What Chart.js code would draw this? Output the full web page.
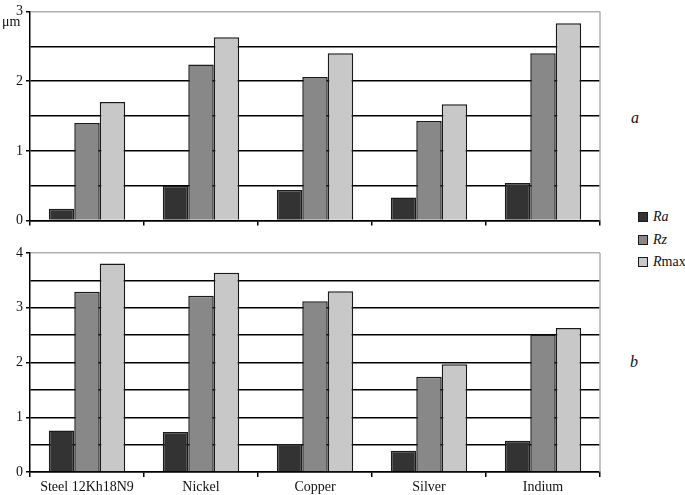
<!DOCTYPE html>
<html>
<head>
<meta charset="utf-8">
<script src="https://cdn.jsdelivr.net/npm/chart.js@4/dist/chart.umd.min.js"></script>
<style>
  html, body { margin:0; padding:0; background:#fff; }
  body { width:685px; height:495px; position:relative; overflow:hidden; font-family:"Liberation Serif", "DejaVu Serif", serif; color:#111; }
  .cw { position:absolute; left:0; }
  .lbl { position:absolute; font-size:14px; line-height:14px; white-space:nowrap; }
  .it { font-style:italic; }
  .sw { position:absolute; width:8px; height:8px; border:1.5px solid #1a1a1a; }
</style>
</head>
<body>
<div class="cw" style="top:0px;width:602px;height:232px;"><canvas id="cA" width="602" height="232"></canvas></div>
<div class="cw" style="top:240px;width:602px;height:255px;"><canvas id="cB" width="602" height="255"></canvas></div>

<div class="lbl" style="left:2px;top:15px;font-size:14px;">μm</div>
<div class="lbl it" style="left:631px;top:111px;font-size:16px;">a</div>
<div class="lbl it" style="left:630px;top:355px;font-size:16px;">b</div>

<div class="sw" style="left:638px;top:212px;background:#333333;"></div>
<div class="lbl" style="left:653px;top:210px;font-size:14px;"><span class="it">Ra</span></div>
<div class="sw" style="left:638px;top:235px;background:#888888;"></div>
<div class="lbl" style="left:653px;top:233px;font-size:14px;"><span class="it">Rz</span></div>
<div class="sw" style="left:638px;top:257px;background:#c8c8c8;"></div>
<div class="lbl" style="left:653px;top:255px;font-size:14px;"><span class="it">R</span>max</div>

<script>
const categories = ['Steel 12Kh18N9', 'Nickel', 'Copper', 'Silver', 'Indium'];
const seriesNames = ['Ra', 'Rz', 'Rmax'];
const seriesColors = ['#333333', '#888888', '#c8c8c8'];

// Panel a
const raA   = [0.17, 0.50, 0.44, 0.33, 0.54];
const rzA   = [1.40, 2.24, 2.06, 1.43, 2.40];
const rmaxA = [1.70, 2.63, 2.40, 1.67, 2.83];
const yMaxA = 3;

// Panel b
const raB   = [0.76, 0.73, 0.51, 0.39, 0.57];
const rzB   = [3.29, 3.22, 3.12, 1.74, 2.51];
const rmaxB = [3.81, 3.64, 3.30, 1.97, 2.63];
const yMaxB = 4;

const FONT = { family: "'Liberation Serif', 'DejaVu Serif', serif", size: 14 };

const rightBorder = {
  id: 'rightBorder',
  afterDraw(chart) {
    const { ctx, chartArea } = chart;
    ctx.save();
    ctx.strokeStyle = '#b0b0b0';
    ctx.lineWidth = 1.5;
    ctx.beginPath();
    ctx.moveTo(chartArea.right, chartArea.top);
    ctx.lineTo(chartArea.right, chartArea.bottom);
    ctx.stroke();
    ctx.restore();
  }
};

function makeChart(id, ra, rz, rmax, yMax, showXLabels, padTop, xHeight) {
  const values = [ra, rz, rmax];
  return new Chart(document.getElementById(id), {
    type: 'bar',
    data: {
      labels: categories,
      datasets: values.map((v, i) => ({
        label: seriesNames[i],
        data: v,
        backgroundColor: seriesColors[i],
        borderColor: '#1a1a1a',
        borderWidth: 1.5,
        barPercentage: 1.0,
        categoryPercentage: 0.67
      }))
    },
    options: {
      responsive: false,
      animation: false,
      layout: { padding: { top: padTop, right: 2, left: 0, bottom: 0 } },
      plugins: { legend: { display: false }, tooltip: { enabled: false } },
      scales: {
        x: {
          offset: true,
          grid: { offset: true, drawOnChartArea: false, drawTicks: true, tickLength: 5, color: '#000', lineWidth: 1.5 },
          border: { color: '#000', width: 1.5 },
          ticks: { display: showXLabels, color: '#111', font: FONT, padding: 2, maxRotation: 0, autoSkip: false },
          afterFit(scale) { scale.height = xHeight; }
        },
        y: {
          min: 0, max: yMax,
          grid: {
            color: ctx => (ctx.tick && ctx.tick.value === yMax) ? '#b0b0b0' : '#000',
            tickColor: ctx => (ctx.tick && Number.isInteger(ctx.tick.value)) ? '#000' : 'rgba(0,0,0,0)',
            lineWidth: 1.5,
            tickLength: 4
          },
          border: { color: '#000', width: 1.5 },
          ticks: {
            stepSize: 0.5,
            color: '#111',
            font: FONT,
            padding: 3,
            callback: v => Number.isInteger(v) ? String(v) : ''
          },
          afterFit(scale) { scale.width = 30; }
        }
      }
    },
    plugins: [rightBorder]
  });
}

makeChart('cA', raA, rzA, rmaxA, yMaxA, false, 6, 6);
makeChart('cB', raB, rzB, rmaxB, yMaxB, true, 13, 23);
</script>
</body>
</html>
